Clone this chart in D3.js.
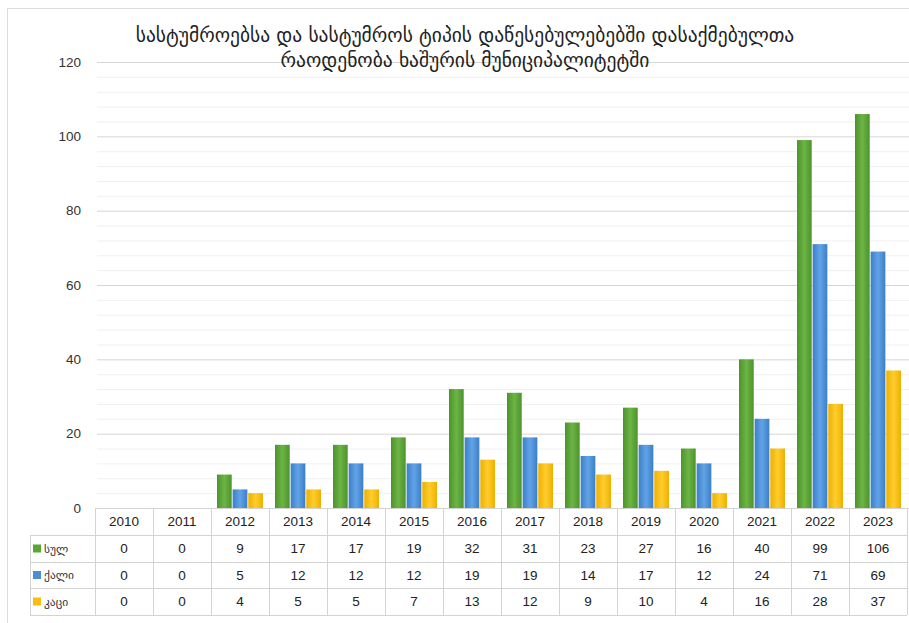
<!DOCTYPE html>
<html>
<head>
<meta charset="utf-8">
<script src="https://cdn.jsdelivr.net/npm/d3@7"></script>
<style>
 body { margin:0; background:#fff; }
 svg { display:block; }
</style>
</head>
<body>
<div class="chart"></div>
<script>
const years = ['2010','2011','2012','2013','2014','2015','2016','2017','2018','2019','2020','2021','2022','2023']
const seriesNames = ['სულ','ქალი','კაცი']
const total  = [0,0,9,17,17,19,32,31,23,27,16,40,99,106]
const female = [0,0,5,12,12,12,19,19,14,17,12,24,71,69]
const male   = [0,0,4,5,5,7,13,12,9,10,4,16,28,37]
const yTicks = [0,20,40,60,80,100,120]
const titleLines = ['სასტუმროებსა და სასტუმროს ტიპის დაწესებულებებში დასაქმებულთა',
                    'რაოდენობა ხაშურის მუნიციპალიტეტში']

const series = [total, female, male]
const colors = ['#5ba535', '#4a8fd6', '#f7be10']
const grad = [['#4c9429','#6db447'], ['#3b7fc8','#62a3e6'], ['#eeb000','#ffcd2e']]

const W = 909, H = 623
const svg = d3.select('.chart').append('svg')
  .attr('width', W).attr('height', H)

const defs = svg.append('defs')
grad.forEach((g, i) => {
  const lg = defs.append('linearGradient').attr('id', 'g' + i)
    .attr('x1', '0%').attr('x2', '100%').attr('y1', '0%').attr('y2', '0%')
  lg.append('stop').attr('offset', '0%').attr('stop-color', g[0])
  lg.append('stop').attr('offset', '50%').attr('stop-color', g[1])
  lg.append('stop').attr('offset', '100%').attr('stop-color', g[0])
})

// chart frame
svg.append('line').attr('x1', 7.5).attr('x2', 7.5).attr('y1', 8).attr('y2', H).attr('stroke', '#dcdcdc')
svg.append('line').attr('x1', 7).attr('x2', W).attr('y1', 8.5).attr('y2', 8.5).attr('stroke', '#dcdcdc')

const x = d3.scaleBand().domain(years).range([95, 907])
const xs = d3.scaleBand().domain(d3.range(3)).range([6, 52]).paddingInner(0.06)
const y = d3.scaleLinear().domain([0, 120]).range([508, 62])

// minor gridlines
svg.append('g').selectAll('line')
  .data(d3.range(4, 120, 4).filter(v => v % 20 != 0))
  .enter().append('line')
  .attr('x1', 97).attr('x2', W)
  .attr('y1', d => y(d) + 0.5).attr('y2', d => y(d) + 0.5)
  .attr('stroke', '#f0f0f0')

// major gridlines + y labels
const yAxis = d3.axisLeft(y).tickValues(yTicks).tickSize(-(W - 97)).tickPadding(16)
const ga = svg.append('g').attr('transform', 'translate(97,0)').call(yAxis)
ga.select('.domain').remove()
ga.selectAll('.tick line').attr('stroke', '#d6d6d6').attr('x1', 0)
ga.selectAll('.tick text').attr('font-family', 'Liberation Sans, Arial, sans-serif')
  .attr('font-size', 13.5).attr('fill', '#333').attr('dy', '0.32em')

// bars
series.forEach((s, si) => {
  svg.append('g').selectAll('rect')
    .data(s)
    .enter().append('rect')
    .attr('x', (d, i) => x(years[i]) + xs(si))
    .attr('y', d => y(d))
    .attr('width', xs.bandwidth())
    .attr('height', d => y(0) - y(d))
    .attr('fill', 'url(#g' + si + ')')
})

// title
svg.append('g').selectAll('text')
  .data(titleLines).enter().append('text')
  .attr('x', 465).attr('y', (d, i) => 42 + i * 25)
  .attr('text-anchor', 'middle')
  .attr('font-family', 'DejaVu Sans, sans-serif')
  .attr('font-size', 19.5).attr('fill', '#222')
  .text(d => d)

// data table
const rowY = [508, 535, 562, 588, 615]
const tbl = svg.append('g').attr('stroke', '#d3d3d3').attr('shape-rendering', 'crispEdges')
tbl.append('line').attr('x1', 95).attr('x2', 907).attr('y1', rowY[0]).attr('y2', rowY[0])
rowY.slice(1).forEach(ry => {
  tbl.append('line').attr('x1', 30).attr('x2', 907).attr('y1', ry).attr('y2', ry)
})
tbl.append('line').attr('x1', 30).attr('x2', 30).attr('y1', rowY[1]).attr('y2', rowY[4])
tbl.selectAll('.vl').data(years.concat(['end'])).enter().append('line')
  .attr('x1', (d, i) => i < years.length ? x(d) : 907)
  .attr('x2', (d, i) => i < years.length ? x(d) : 907)
  .attr('y1', rowY[0]).attr('y2', rowY[4])

const tf = 'Liberation Sans, Arial, sans-serif'
svg.append('g').selectAll('text').data(years).enter().append('text')
  .attr('x', d => x(d) + x.bandwidth() / 2).attr('y', (rowY[0] + rowY[1]) / 2)
  .attr('dy', '0.35em').attr('text-anchor', 'middle')
  .attr('font-family', tf).attr('font-size', 13.5).attr('fill', '#222')
  .text(d => d)

series.forEach((s, si) => {
  const cy = (rowY[si + 1] + rowY[si + 2]) / 2
  svg.append('g').selectAll('text').data(s).enter().append('text')
    .attr('x', (d, i) => x(years[i]) + x.bandwidth() / 2).attr('y', cy)
    .attr('dy', '0.35em').attr('text-anchor', 'middle')
    .attr('font-family', tf).attr('font-size', 13.5).attr('fill', '#222')
    .text(d => d)
  svg.append('rect').attr('x', 33).attr('y', cy - 4).attr('width', 8).attr('height', 8)
    .attr('fill', colors[si])
  svg.append('text').attr('x', 44).attr('y', cy).attr('dy', '0.35em')
    .attr('font-family', 'DejaVu Sans, sans-serif').attr('font-size', 11.5).attr('fill', '#333')
    .text(seriesNames[si])
})
</script>
</body>
</html>
